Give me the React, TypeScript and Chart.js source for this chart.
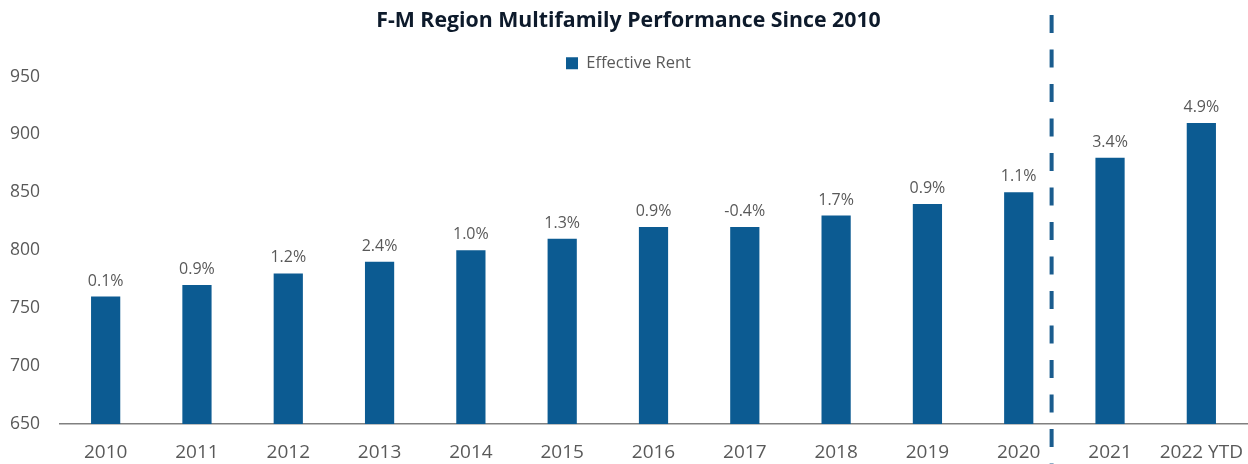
import React, { useEffect, useRef } from "react";
import { Chart, registerables } from "chart.js";

Chart.register(...registerables);

const categories = ["2010", "2011", "2012", "2013", "2014", "2015", "2016", "2017", "2018", "2019", "2020", "2021", "2022 YTD"];
const effectiveRent = [760, 770, 780, 790, 800, 810, 820, 820, 830, 840, 850, 880, 910];
const growthLabels = ["0.1%", "0.9%", "1.2%", "2.4%", "1.0%", "1.3%", "0.9%", "-0.4%", "1.7%", "0.9%", "1.1%", "3.4%", "4.9%"];
const yMin = 650;
const yMax = 950;
const yStep = 50;
const dividerAt = 10.36; // between 2020 and 2021, in category units

const FONT = "'Open Sans', 'Noto Sans', sans-serif";
const BAR_COLOR = "#0c5b92";
const TEXT_GRAY = "#595959";

const valueLabelPlugin = {
  id: "valueLabels",
  afterDatasetsDraw(chart: any) {
    const ctx = chart.ctx;
    const meta = chart.getDatasetMeta(0);
    ctx.save();
    ctx.font = `16px ${FONT}`;
    ctx.fillStyle = TEXT_GRAY;
    ctx.textAlign = "center";
    ctx.textBaseline = "alphabetic";
    meta.data.forEach((bar: any, i: number) => {
      ctx.fillText(growthLabels[i], bar.x, bar.y - 11);
    });
    ctx.restore();
  },
};

const dividerPlugin = {
  id: "divider",
  afterDraw(chart: any) {
    const ctx = chart.ctx;
    const xs = chart.scales.x;
    const base = Math.floor(dividerAt);
    const frac = dividerAt - base;
    const x0 = xs.getPixelForValue(base);
    const x1 = xs.getPixelForValue(base + 1);
    const x = x0 + frac * (x1 - x0);
    ctx.save();
    ctx.strokeStyle = "#1a5c8e";
    ctx.lineWidth = 4;
    ctx.setLineDash([18, 16.5]);
    ctx.beginPath();
    ctx.moveTo(x, 15);
    ctx.lineTo(x, chart.height);
    ctx.stroke();
    ctx.restore();
  },
};

export default function App() {
  const canvasRef = useRef<HTMLCanvasElement | null>(null);

  useEffect(() => {
    if (!canvasRef.current) return;
    const chart = new Chart(canvasRef.current, {
      type: "bar",
      data: {
        labels: categories,
        datasets: [
          {
            label: "Effective Rent",
            data: effectiveRent,
            backgroundColor: BAR_COLOR,
            borderWidth: 0,
            categoryPercentage: 1,
            barPercentage: 0.32,
          },
        ],
      },
      options: {
        animation: false,
        responsive: true,
        maintainAspectRatio: false,
        layout: { padding: { top: 0, left: 10, right: 1, bottom: 0 } },
        plugins: {
          tooltip: { enabled: false },
          title: {
            display: true,
            text: "F-M Region Multifamily Performance Since 2010",
            color: "#0d1a2b",
            font: { family: FONT, size: 21.3, weight: "bold" },
            padding: { top: 8, bottom: 11.5 },
          },
          legend: {
            display: true,
            position: "top",
            maxHeight: 31.5,
            labels: {
              color: TEXT_GRAY,
              font: { family: FONT, size: 16.5 },
              boxWidth: 12,
              boxHeight: 12,
              padding: 10,
            },
          },
        },
        scales: {
          x: {
            grid: { display: false, drawTicks: false },
            border: { display: true, color: "#808080", width: 1.5 },
            ticks: {
              color: TEXT_GRAY,
              font: { family: FONT, size: 19 },
              padding: 17,
              maxRotation: 0,
              autoSkip: false,
            },
            afterFit(scale: any) {
              scale.height = 40;
              scale.paddingLeft = 0;
              scale.paddingRight = 0;
            },
          },
          y: {
            min: yMin,
            max: yMax,
            grid: { display: false, drawTicks: false },
            border: { display: false },
            ticks: {
              stepSize: yStep,
              color: TEXT_GRAY,
              font: { family: FONT, size: 17.5 },
              padding: 20,
            },
            afterFit(scale: any) {
              scale.width = 50;
            },
          },
        },
      },
      plugins: [valueLabelPlugin, dividerPlugin],
    });
    return () => chart.destroy();
  }, []);

  return (
    <div style={{ position: "absolute", left: 0, top: 0, width: 1248, height: 464 }}>
      <canvas ref={canvasRef} />
    </div>
  );
}
